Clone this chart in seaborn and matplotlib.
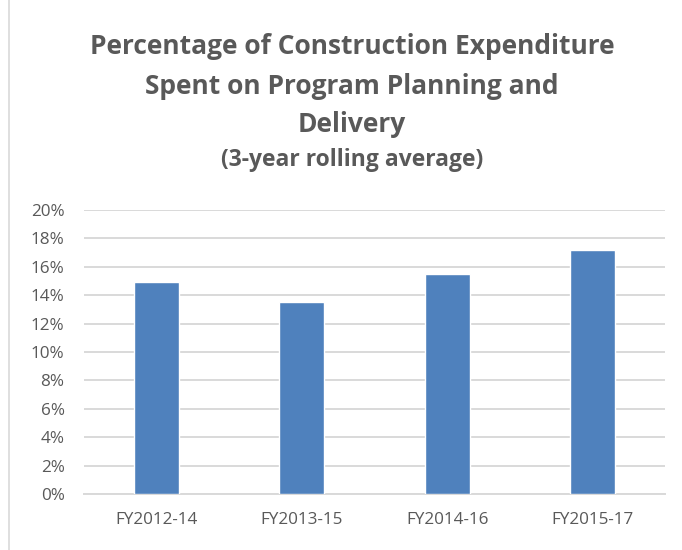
import matplotlib
matplotlib.use("Agg")
from matplotlib import pyplot as plt
from matplotlib.ticker import FuncFormatter
import seaborn as sns
import pandas as pd

periods = ["FY2012-14", "FY2013-15", "FY2014-16", "FY2015-17"]
pct_spent = [14.9, 13.5, 15.5, 17.2]

title_lines = ["Percentage of Construction Expenditure",
               "Spent on Program Planning and",
               "Delivery"]
subtitle = "(3-year rolling average)"

GREY = "#595959"
GRID = "#d9d9d9"
BAR = "#4f81bd"

sns.set_style("white")
plt.rcParams["font.family"] = ["Open Sans", "DejaVu Sans"]

df = pd.DataFrame({"period": periods, "pct": pct_spent})

fig = plt.figure(figsize=(6.82, 5.5), dpi=100)
ax = fig.add_axes([84 / 682, 56 / 550, 581 / 682, 284 / 550])

sns.barplot(data=df, x="period", y="pct", color=BAR, width=0.31,
            saturation=1, ax=ax, zorder=3)

ax.set_ylim(0, 20)
ax.set_yticks(range(0, 21, 2))
ax.yaxis.set_major_formatter(FuncFormatter(lambda v, p: f"{v:.0f}%"))
ax.grid(axis="y", color=GRID, linewidth=1.4, zorder=0)
ax.set_axisbelow(True)
for s in ["top", "right", "left"]:
    ax.spines[s].set_visible(False)
ax.spines["bottom"].set_color(GRID)
ax.spines["bottom"].set_linewidth(1.4)
ax.tick_params(axis="both", length=0, colors=GREY, labelsize=12.3)
ax.tick_params(axis="y", pad=14)
ax.tick_params(axis="x", pad=13)
ax.set_xlabel("")
ax.set_ylabel("")

# title block
ys = [47, 86, 125]
for line, y in zip(title_lines, ys):
    fig.text(352 / 682, 1 - y / 550, line, ha="center", va="center",
             fontsize=19, fontweight="bold", color=GREY)
fig.text(352 / 682, 1 - 160 / 550, subtitle, ha="center", va="center",
         fontsize=16.5, fontweight="bold", color=GREY)

# chart frame edge on the left
fig.add_artist(plt.Line2D([9 / 682, 9 / 682], [0, 1], color=GRID,
                          linewidth=1.2, transform=fig.transFigure))

fig.savefig("out.png", dpi=100)
